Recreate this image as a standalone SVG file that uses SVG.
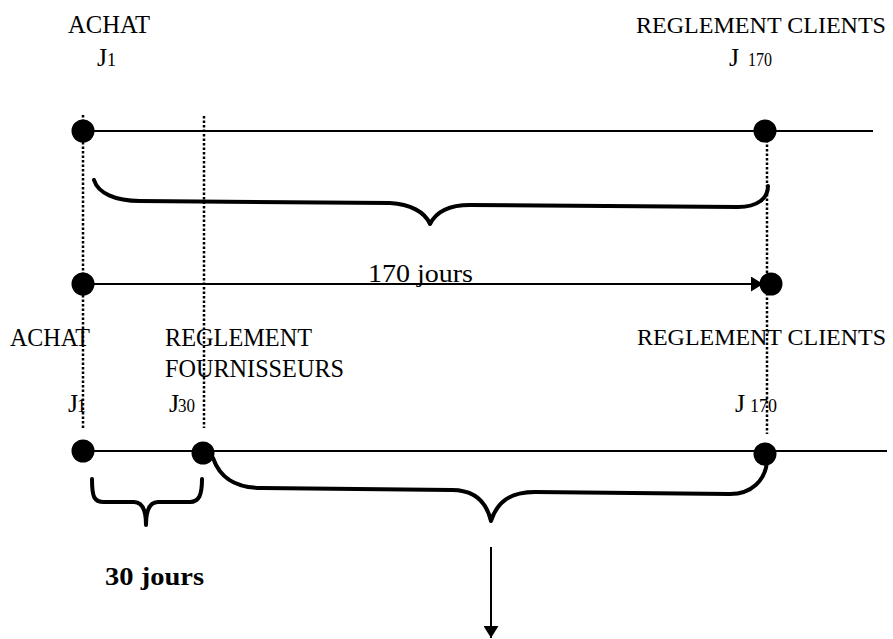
<svg xmlns="http://www.w3.org/2000/svg" width="893" height="639" viewBox="0 0 893 639">
<style>
text{font-family:"Liberation Serif","Times New Roman",serif;fill:#000}
.lbl{font-size:26px}
.wide{font-size:24px}
.sub{font-size:18px}
.bold{font-weight:bold}
.line{stroke:#000;stroke-width:2;fill:none}
.dot{stroke:#000;stroke-width:2.5;stroke-dasharray:2.5 2;fill:none}
.brace{stroke:#000;stroke-width:4;fill:none;stroke-linecap:round;stroke-linejoin:round}
.pt{fill:#000}
</style>
<defs>
<marker id="arr" markerUnits="userSpaceOnUse" markerWidth="13" markerHeight="15" refX="12" refY="7.5" orient="auto">
<path d="M0,0 L12,7.5 L0,15 z" fill="#000"/>
</marker>
</defs>
<rect width="893" height="639" fill="#fff"/>

<g id="guides">
<path class="dot" d="M83,115 V428"/>
<path class="dot" d="M204,116 V428"/>
<path class="dot" d="M767,140 V434"/>
</g>

<g id="connectors">
<path class="line" d="M83,131 H873"/>
<path class="line" d="M83,284 H763" marker-end="url(#arr)"/>
<path class="line" d="M83,451 H887"/>
<path class="line" d="M491,547 V638" marker-end="url(#arr)"/>
<path class="brace" d="M94,180 C98,193 115,201 140,201 L390,203 C410,204 425,212 430,224 C436,212 450,205 470,205 L738,207 C758,207 768,198 768,186"/>
<path class="brace" d="M92,479 C92,497 94,502 104,502 L134,502 C142,502 146,510 146,525 C146,510 150,502 158,502 L190,502 C199,502 202,495 202,479"/>
<path class="brace" d="M213,458 C220,478 235,488 262,488 L452,490 C472,490 486,500 491,521 C497,502 510,492 535,492 L730,494 C752,494 765,480 767,462"/>
</g>

<g id="achat-top">
<text class="lbl" x="68" y="33" textLength="82" lengthAdjust="spacingAndGlyphs">ACHAT</text>
<text class="lbl" x="97" y="66">J</text><text class="sub" x="107" y="66">1</text>
<circle class="pt" cx="83" cy="131" r="11.5"/>
</g>

<g id="clients-top">
<text class="wide" x="636" y="33" textLength="250" lengthAdjust="spacingAndGlyphs">REGLEMENT CLIENTS</text>
<text class="lbl" x="729" y="66">J</text><text class="sub" x="748" y="66" textLength="24" lengthAdjust="spacingAndGlyphs">170</text>
<circle class="pt" cx="765" cy="131" r="11.5"/>
</g>

<g id="duration-170">
<circle class="pt" cx="83" cy="284" r="11.5"/>
<circle class="pt" cx="771" cy="284" r="11.5"/>
<text class="lbl" x="368" y="282" textLength="105" lengthAdjust="spacingAndGlyphs">170 jours</text>
</g>

<g id="achat-bottom">
<text class="lbl" x="10" y="346" textLength="80" lengthAdjust="spacingAndGlyphs">ACHAT</text>
<text class="lbl" x="68" y="412">J</text><text class="sub" x="77" y="412">1</text>
<circle class="pt" cx="83" cy="451" r="11.5"/>
</g>

<g id="fournisseurs">
<text class="lbl" x="165" y="346" textLength="147" lengthAdjust="spacingAndGlyphs">REGLEMENT</text>
<text class="lbl" x="165" y="377" textLength="179" lengthAdjust="spacingAndGlyphs">FOURNISSEURS</text>
<text class="lbl" x="169" y="412">J</text><text class="sub" x="178" y="412" textLength="17" lengthAdjust="spacingAndGlyphs">30</text>
<circle class="pt" cx="203" cy="453" r="11.5"/>
</g>

<g id="clients-bottom">
<text class="wide" x="637" y="345" textLength="249" lengthAdjust="spacingAndGlyphs">REGLEMENT CLIENTS</text>
<text class="lbl" x="735" y="412">J</text><text class="sub" x="750" y="412" textLength="27" lengthAdjust="spacingAndGlyphs">170</text>
<circle class="pt" cx="765" cy="454" r="11.5"/>
</g>

<g id="duration-30">
<text class="lbl bold" x="105" y="585" textLength="99" lengthAdjust="spacingAndGlyphs">30 jours</text>
</g>
</svg>
